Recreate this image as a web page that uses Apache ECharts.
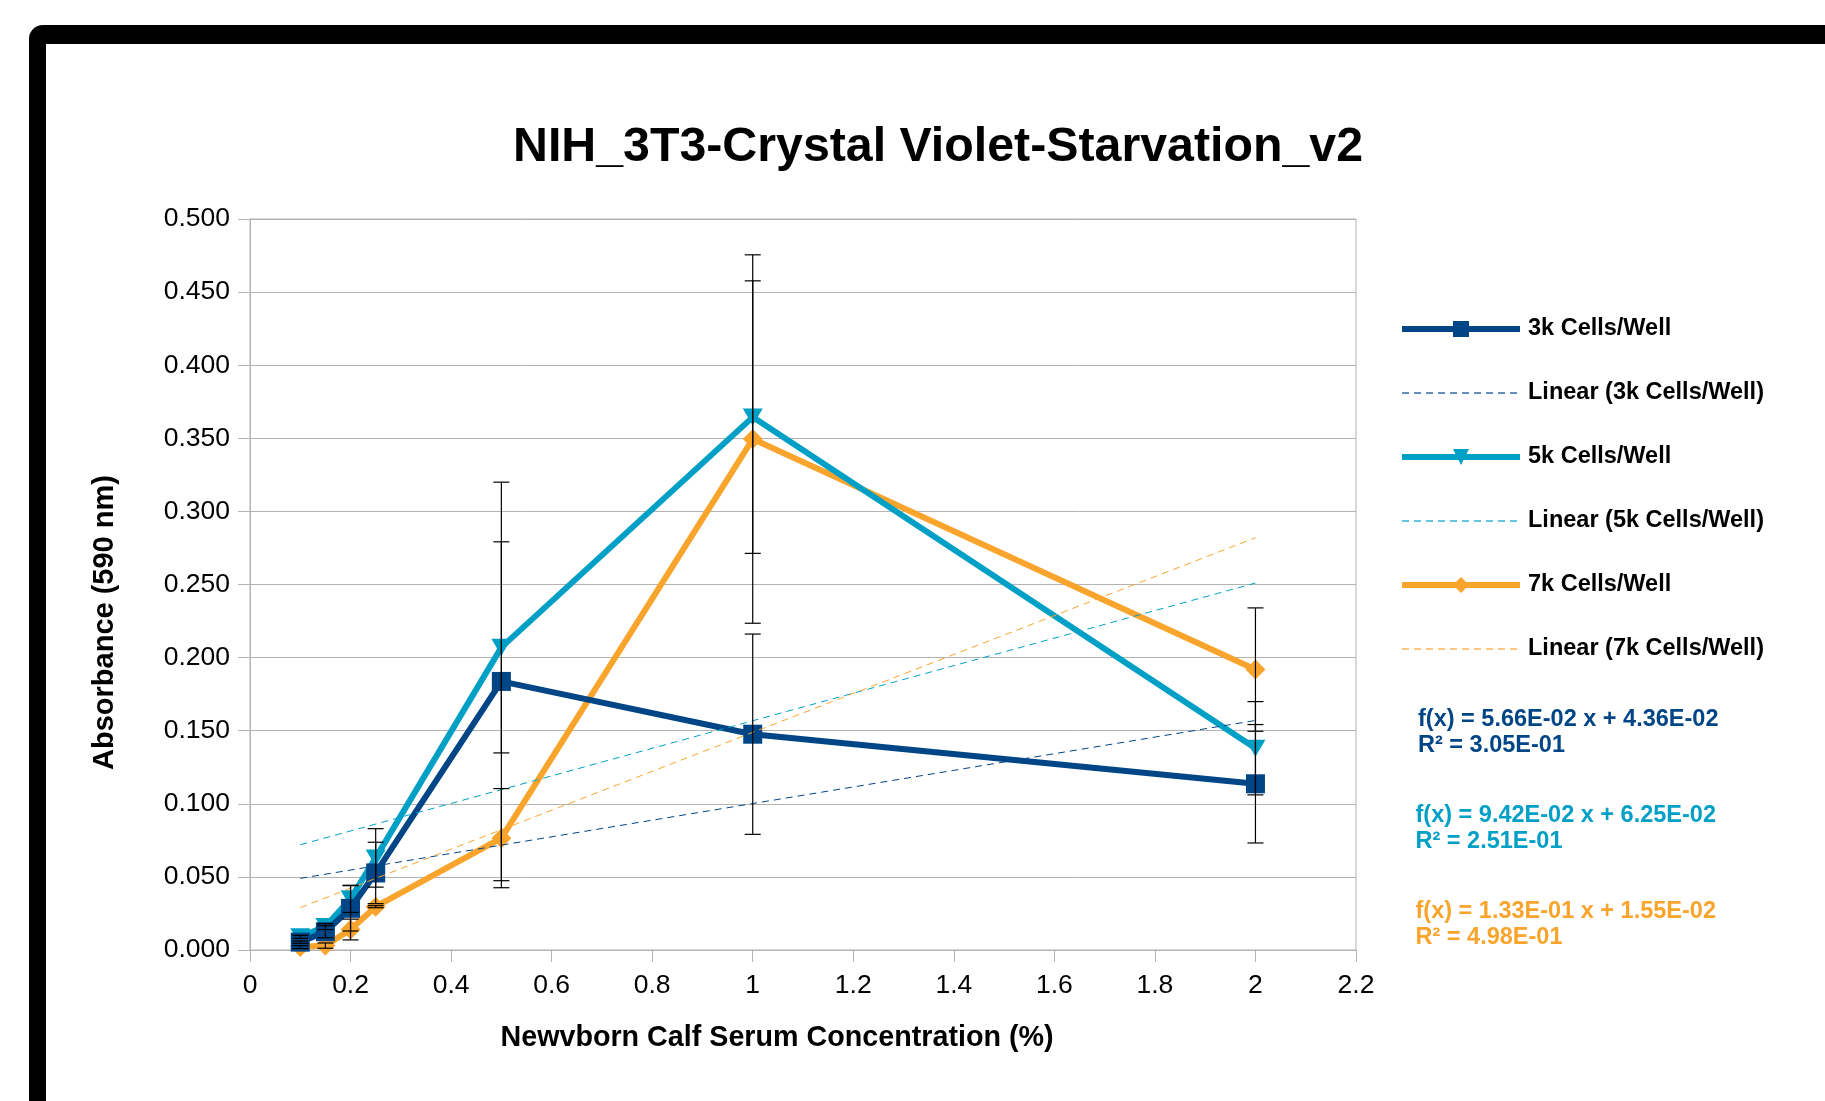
<!DOCTYPE html>
<html><head><meta charset="utf-8">
<script src="https://cdn.jsdelivr.net/npm/echarts@6/dist/echarts.min.js"></script>
<style>
html,body{margin:0;padding:0;background:#fff;width:1825px;height:1101px;overflow:hidden;}
#frame{position:absolute;left:29px;top:25px;width:1900px;height:1200px;background:#000;border-top-left-radius:14px;}
#inner{position:absolute;left:46px;top:44px;width:1900px;height:1200px;background:#fff;}
#chart{position:absolute;left:0;top:0;width:1825px;height:1101px;}
</style></head><body>
<div id="frame"></div><div id="inner"></div><div id="chart"></div>
<script>
// Serum concentration (%)
const serum = [0.1, 0.15, 0.2, 0.25, 0.5, 1, 2];
// Mean absorbance (590 nm)
const abs3k = [0.0054, 0.0125, 0.0285, 0.0527, 0.1837, 0.1476, 0.1137];
const abs5k = [0.009, 0.016, 0.035, 0.063, 0.207, 0.3645, 0.138];
const abs7k = [0.002, 0.003, 0.014, 0.0296, 0.0765, 0.3495, 0.1918];
// Error (+/-)
const err3k = [0.0008, 0.0041, 0.0155, 0.021, 0.1363, 0.0685, 0.0405];
const err5k = [0.001, 0.002, 0.0093, 0.020, 0.0722, 0.0932, 0.0319];
const err7k = [0.001, 0.0018, 0.0071, 0.0007, 0.0339, 0.126, 0.0422];
// Linear trend lines (endpoints)
const trend3k = [[0.1, 0.049], [2, 0.157]];
const trend5k = [[0.1, 0.072], [2, 0.251]];
const trend7k = [[0.1, 0.029], [2, 0.282]];
const seriesNames = ['3k Cells/Well', '5k Cells/Well', '7k Cells/Well'];
const trendNames = ['Linear (3k Cells/Well)', 'Linear (5k Cells/Well)', 'Linear (7k Cells/Well)'];
const equations = ['f(x) = 5.66E-02 x + 4.36E-02', 'f(x) = 9.42E-02 x + 6.25E-02', 'f(x) = 1.33E-01 x + 1.55E-02'];
const rSquared = ['R² = 3.05E-01', 'R² = 2.51E-01', 'R² = 4.98E-01'];

const colors = ['#004586', '#00a0c6', '#f9a42c'];
const FONT = 'Liberation Sans';

function pairs(xs, ys) { return xs.map((x, i) => [x, ys[i]]); }
function errData(xs, ys, es) { return xs.map((x, i) => [x, ys[i] - es[i], ys[i] + es[i]]); }

function renderErr(params, api) {
  const x = api.value(0), lo = api.value(1), hi = api.value(2);
  const t = api.coord([x, hi]), b = api.coord([x, lo]);
  const hw = 8;
  const st = { stroke: '#000', lineWidth: 1.2 };
  return { type: 'group', children: [
    { type: 'line', shape: { x1: t[0], y1: t[1], x2: b[0], y2: b[1] }, style: st },
    { type: 'line', shape: { x1: t[0] - hw, y1: t[1], x2: t[0] + hw, y2: t[1] }, style: st },
    { type: 'line', shape: { x1: b[0] - hw, y1: b[1], x2: b[0] + hw, y2: b[1] }, style: st }
  ]};
}

const mainSym = [
  { symbol: 'rect', symbolSize: 19, symbolRotate: 0 },
  { symbol: 'triangle', symbolSize: [20, 17], symbolRotate: 180 },
  { symbol: 'diamond', symbolSize: 20, symbolRotate: 0 }
];
const absData = [abs3k, abs5k, abs7k];
const errs = [err3k, err5k, err7k];
const trends = [trend3k, trend5k, trend7k];

const series = [];
[0, 1, 2].forEach(i => {
  series.push({
    name: seriesNames[i], type: 'line', data: pairs(serum, absData[i]),
    symbol: mainSym[i].symbol, symbolSize: mainSym[i].symbolSize, symbolRotate: mainSym[i].symbolRotate,
    showAllSymbol: true,
    lineStyle: { color: colors[i], width: 6 }, itemStyle: { color: colors[i] },
    z: 5 - i, animation: false
  });
});
[0, 1, 2].forEach(i => {
  series.push({
    name: trendNames[i], type: 'line', data: trends[i], symbol: 'none',
    lineStyle: { color: colors[i], width: 1, type: [7, 5] }, itemStyle: { color: colors[i] },
    z: 6, animation: false
  });
});
[0, 1, 2].forEach(i => {
  series.push({
    name: 'err' + i, type: 'custom', data: errData(serum, absData[i], errs[i]),
    encode: { x: 0, y: [1, 2] }, renderItem: renderErr, z: 7, animation: false
  });
});

const legendData = [];
[0, 1, 2].forEach(i => {
  legendData.push({ name: seriesNames[i], lineStyle: { color: colors[i], width: 6, type: 'solid' } });
  legendData.push({ name: trendNames[i], itemStyle: { opacity: 0 }, lineStyle: { color: colors[i], width: 1.3, type: [7, 5], opacity: 0.8 } });
});

const graphics = [];
const eqPos = [[1418, 720, 746], [1415.5, 815.5, 841.5], [1415.5, 911.5, 937.5]];
[0, 1, 2].forEach(i => {
  graphics.push({ type: 'text', x: eqPos[i][0], y: eqPos[i][1], style: { text: equations[i], fill: colors[i], font: 'bold 23.5px "Liberation Sans"', verticalAlign: 'middle' } });
  graphics.push({ type: 'text', x: eqPos[i][0], y: eqPos[i][2], style: { text: rSquared[i], fill: colors[i], font: 'bold 23.5px "Liberation Sans"', verticalAlign: 'middle' } });
});

const chart = echarts.init(document.getElementById('chart'), null, { renderer: 'canvas' });
chart.setOption({
  animation: false,
  title: { text: 'NIH_3T3-Crystal Violet-Starvation_v2', left: 933, top: 119, textAlign: 'center',
    textStyle: { fontFamily: FONT, fontWeight: 'bold', fontSize: 48.3, color: '#000' } },
  grid: { left: 250, right: 469, top: 219, bottom: 151, show: true, borderColor: '#b3b3b3', borderWidth: 1, backgroundColor: 'transparent', outerBoundsMode: 'none' },
  legend: {
    data: legendData, orient: 'vertical', left: 1394, top: 310, itemWidth: 118, itemHeight: 20, itemGap: 36,
    textStyle: { fontFamily: FONT, fontWeight: 'bold', fontSize: 23.5, color: '#000', lineHeight: 28, padding: [0, 0, 0, 3] },
    selectedMode: false
  },
  xAxis: {
    type: 'value', min: 0, max: 2.2, interval: 0.2,
    name: 'Newvborn Calf Serum Concentration (%)', nameLocation: 'middle', nameGap: 74,
    nameTextStyle: { fontFamily: FONT, fontWeight: 'bold', fontSize: 28.7, color: '#000', padding: [0, 52, 0, 0] },
    axisLine: { show: true, lineStyle: { color: '#b3b3b3', width: 1 } },
    axisTick: { show: true, length: 12, lineStyle: { color: '#b3b3b3' } },
    axisLabel: { fontFamily: FONT, fontSize: 26.5, color: '#000', margin: 22 },
    splitLine: { show: false }
  },
  yAxis: {
    type: 'value', min: 0, max: 0.5, interval: 0.05,
    name: 'Absorbance (590 nm)', nameLocation: 'middle', nameGap: 131, nameRotate: 90,
    nameTextStyle: { fontFamily: FONT, fontWeight: 'bold', fontSize: 29, color: '#000', padding: [0, 76, 0, 0] },
    axisLine: { show: true, lineStyle: { color: '#b3b3b3', width: 1 } },
    axisTick: { show: true, length: 12, lineStyle: { color: '#b3b3b3' } },
    axisLabel: { fontFamily: FONT, fontSize: 26.5, color: '#000', margin: 20, formatter: v => v.toFixed(3) },
    splitLine: { show: true, lineStyle: { color: '#b3b3b3', width: 1 } }
  },
  graphic: { elements: graphics },
  series: series
});
</script></body></html>
